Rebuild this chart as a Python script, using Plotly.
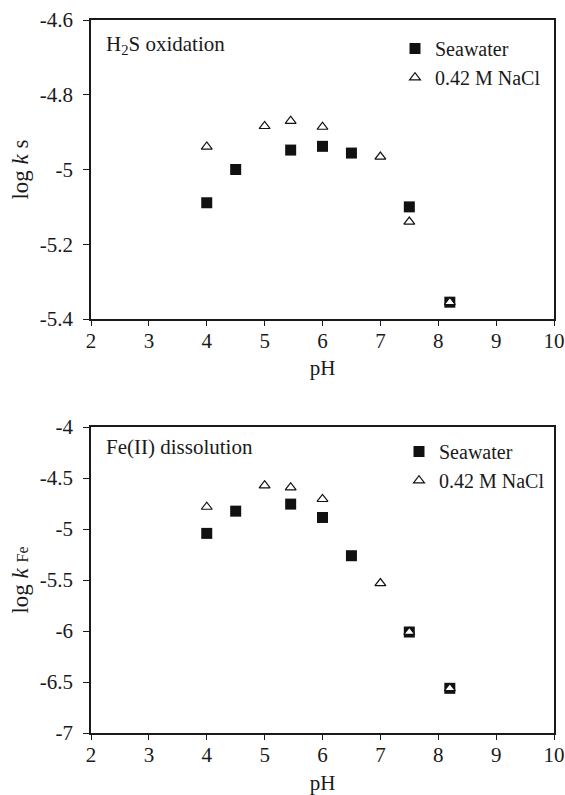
import plotly.graph_objects as go

FONT = "Liberation Serif"

# ---- data ----
ph_sw_top = [4.0, 4.5, 5.45, 6.0, 6.5, 7.5, 8.2]
logk_sw_top = [-5.089, -5.0, -4.948, -4.938, -4.956, -5.10, -5.355]
ph_na_top = [4.0, 5.0, 5.45, 6.0, 7.0, 7.5, 8.2]
logk_na_top = [-4.939, -4.884, -4.870, -4.886, -4.966, -5.140, -5.355]

ph_sw_bot = [4.0, 4.5, 5.45, 6.0, 6.5, 7.5, 8.2]
logk_sw_bot = [-5.043, -4.825, -4.756, -4.887, -5.262, -6.01, -6.562]
ph_na_bot = [4.0, 5.0, 5.45, 6.0, 7.0, 7.5, 8.2]
logk_na_bot = [-4.783, -4.573, -4.593, -4.707, -5.532, -6.01, -6.562]

x_ticks = [2, 3, 4, 5, 6, 7, 8, 9, 10]
y_ticks_top = [-4.6, -4.8, -5.0, -5.2, -5.4]
y_ticktext_top = ["-4.6", "-4.8", "-5", "-5.2", "-5.4"]
y_ticks_bot = [-4.0, -4.5, -5.0, -5.5, -6.0, -6.5, -7.0]
y_ticktext_bot = ["-4", "-4.5", "-5", "-5.5", "-6", "-6.5", "-7"]

W, H = 565, 795


def fx(px):
    return px / W


def fy(py):
    return 1 - py / H


TXT = "#1a1a1a"
fig = go.Figure()

sq = dict(symbol="square", size=11, color="#111", line=dict(width=0))
tri = dict(symbol="triangle-up", size=9.5, color="white", line=dict(width=1.2, color="#111"))

fig.add_trace(go.Scatter(x=ph_sw_top, y=logk_sw_top, mode="markers", marker=sq,
                         name="Seawater", xaxis="x", yaxis="y", legend="legend"))
fig.add_trace(go.Scatter(x=ph_na_top, y=logk_na_top, mode="markers", marker=tri,
                         name="0.42 M NaCl", xaxis="x", yaxis="y", legend="legend"))
fig.add_trace(go.Scatter(x=ph_sw_bot, y=logk_sw_bot, mode="markers", marker=sq,
                         name="Seawater", xaxis="x2", yaxis="y2", legend="legend2"))
fig.add_trace(go.Scatter(x=ph_na_bot, y=logk_na_bot, mode="markers", marker=tri,
                         name="0.42 M NaCl", xaxis="x2", yaxis="y2", legend="legend2"))

xd = [fx(91), fx(554)]
top_dom = [fy(319), fy(20)]
bot_dom = [fy(733), fy(427)]

ax_common = dict(showline=True, linecolor="#1a1a1a", linewidth=1.5, mirror=True,
                 ticks="outside", tickwidth=1.3, tickcolor="#1a1a1a",
                 showgrid=False, zeroline=False, automargin=False,
                 tickfont=dict(family=FONT, size=21, color=TXT))
xax = dict(ticklen=5, ticklabelstandoff=-3, **ax_common)
yax = dict(ticklen=6, ticklabelstandoff=6, **ax_common)

fig.update_layout(
    width=W, height=H,
    margin=dict(l=0, r=0, t=0, b=0),
    paper_bgcolor="white", plot_bgcolor="white",
    font=dict(family=FONT, size=21, color=TXT),
    xaxis=dict(domain=xd, range=[2, 10], tickvals=x_ticks, anchor="y",
               title=dict(text="pH", standoff=8, font=dict(family=FONT, size=21)), **xax),
    yaxis=dict(domain=top_dom, range=[-5.4, -4.6], tickvals=y_ticks_top, ticktext=y_ticktext_top,
               anchor="x", title=dict(text="log <i>k</i> s", standoff=5, font=dict(family=FONT, size=23)),
               **yax),
    xaxis2=dict(domain=xd, range=[2, 10], tickvals=x_ticks, anchor="y2",
                title=dict(text="pH", standoff=12, font=dict(family=FONT, size=21)), **xax),
    yaxis2=dict(domain=bot_dom, range=[-7, -4], tickvals=y_ticks_bot, ticktext=y_ticktext_bot,
                anchor="x2",
                title=dict(text="log <i>k</i> <span style='font-size:16px'>Fe</span>", standoff=5,
                           font=dict(family=FONT, size=23)),
                **yax),
    legend=dict(x=fx(395), y=fy(29), xanchor="left", yanchor="top", bgcolor="rgba(0,0,0,0)",
                font=dict(family=FONT, size=20, color=TXT), itemwidth=30, tracegroupgap=0),
    legend2=dict(x=fx(399), y=fy(432), xanchor="left", yanchor="top", bgcolor="rgba(0,0,0,0)",
                 font=dict(family=FONT, size=20, color=TXT), itemwidth=30, tracegroupgap=0),
    annotations=[
        dict(text="H<sub>2</sub>S oxidation", xref="paper", yref="paper", x=fx(104), y=fy(45),
             xanchor="left", yanchor="middle", showarrow=False, font=dict(family=FONT, size=21, color=TXT)),
        dict(text="Fe(II) dissolution", xref="paper", yref="paper", x=fx(104), y=fy(447),
             xanchor="left", yanchor="middle", showarrow=False, font=dict(family=FONT, size=21, color=TXT)),
    ],
    showlegend=True,
)

fig.write_html("out.html", config={"displayModeBar": False},
               post_script="document.body.style.margin='0';")
